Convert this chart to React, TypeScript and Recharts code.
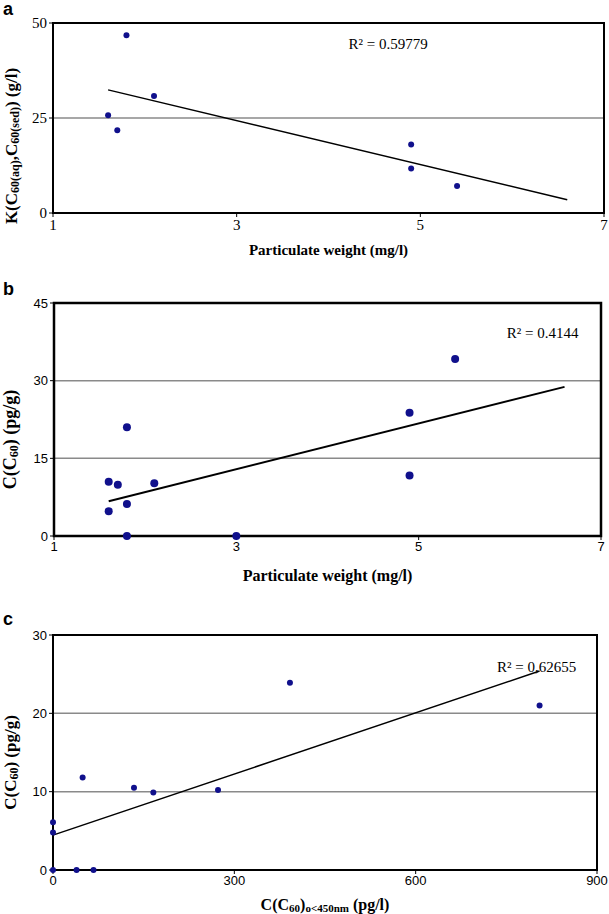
import React from "react"
import {
  ScatterChart,
  Scatter,
  XAxis,
  YAxis,
  CartesianGrid,
  ReferenceArea,
  ReferenceLine,
  ReferenceDot,
  Label,
} from "recharts"

const serif = "'Liberation Serif', 'Times New Roman', serif"
const sans = "'Liberation Sans', Arial, sans-serif"
const dotColor = "#10108c"

// panel a: partition coefficient vs particulate weight
const weightA = [1.6, 1.7, 1.8, 2.1, 4.9, 4.9, 5.4]
const kA = [25.7, 21.8, 46.8, 30.8, 18, 11.7, 7.1]
const trendA = [
  { x: 1.6, y: 32.4 },
  { x: 6.6, y: 3.5 },
]
const xTicksA = [1, 3, 5, 7]
const yTicksA = [0, 25, 50]

// panel b: C60 in particles vs particulate weight
const weightB = [1.6, 1.6, 1.7, 1.8, 1.8, 1.8, 2.1, 3.0, 4.9, 4.9, 5.4]
const c60B = [10.5, 4.8, 9.9, 21, 6.2, 0, 10.2, 0, 23.8, 11.7, 34.2]
const trendB = [
  { x: 1.6, y: 6.7 },
  { x: 6.6, y: 28.8 },
]
const xTicksB = [1, 3, 5, 7]
const yTicksB = [0, 15, 30, 45]

// panel c: C60 in particles vs dissolved C60
const dissolvedC = [0, 0, 0, 39, 67, 49, 134, 166, 273, 392, 805]
const c60C = [6.1, 4.8, 0, 0, 0, 11.8, 10.5, 9.9, 10.2, 23.9, 21]
const trendC = [
  { x: 0, y: 4.45 },
  { x: 805, y: 25.4 },
]
const xTicksC = [0, 300, 600, 900]
const yTicksC = [0, 10, 20, 30]

const toPoints = (xs: number[], ys: number[]) => xs.map((x, i) => ({ x, y: ys[i] }))

const xTitle = (children: React.ReactNode, dy: number, size: number) => (props: any) => {
  const { x, y, width } = props.viewBox
  return (
    <text
      x={x + width / 2}
      y={y + dy}
      textAnchor="middle"
      dominantBaseline="central"
      fontFamily={serif}
      fontWeight="bold"
      fontSize={size}
      fill="#000"
    >
      {children}
    </text>
  )
}

const yTitle = (children: React.ReactNode, cx: number, shift: number, size: number) => (props: any) => {
  const { y, height } = props.viewBox
  const cy = y + height / 2 + shift
  return (
    <text
      x={cx}
      y={cy}
      transform={`rotate(-90 ${cx} ${cy})`}
      textAnchor="middle"
      dominantBaseline="central"
      fontFamily={serif}
      fontWeight="bold"
      fontSize={size}
      fill="#000"
    >
      {children}
    </text>
  )
}

interface PanelProps {
  letter: string
  top: number
  height: number
  margin: { top: number; right: number; left: number; bottom: number }
  yAxisWidth: number
  xAxisHeight: number
  points: { x: number; y: number }[]
  trend: { x: number; y: number }[]
  xTicks: number[]
  yTicks: number[]
  dotR: number
  lineW: number
  borderW: number
  tickFont: string
  tickSize: number
  r2: string
  r2At: { x: number; y: number }
  xLabel: (props: any) => React.ReactNode
  yLabel: (props: any) => React.ReactNode
}

function Panel(p: PanelProps) {
  const x0 = p.xTicks[0]
  const x1 = p.xTicks[p.xTicks.length - 1]
  const y0 = p.yTicks[0]
  const y1 = p.yTicks[p.yTicks.length - 1]
  const tick = { fill: "#000", fontSize: p.tickSize, fontFamily: p.tickFont }
  return (
    <div style={{ position: "absolute", left: 0, top: p.top, width: 609, height: p.height }}>
      <div
        style={{
          position: "absolute",
          left: 3,
          top: 0,
          fontFamily: sans,
          fontWeight: "bold",
          fontSize: 18,
          lineHeight: "18px",
        }}
      >
        {p.letter}
      </div>
      <ScatterChart width={609} height={p.height} margin={p.margin}>
        <CartesianGrid vertical={false} stroke="#8a8a8a" strokeWidth={1.5} />
        <XAxis
          type="number"
          dataKey="x"
          domain={[x0, x1]}
          ticks={p.xTicks}
          height={p.xAxisHeight}
          tick={tick}
          tickSize={4}
          tickLine={{ stroke: "#000" }}
          axisLine={false}
        >
          <Label content={p.xLabel} />
        </XAxis>
        <YAxis
          type="number"
          dataKey="y"
          domain={[y0, y1]}
          ticks={p.yTicks}
          width={p.yAxisWidth}
          tick={tick}
          tickSize={4}
          tickLine={{ stroke: "#000" }}
          axisLine={false}
        >
          <Label content={p.yLabel} />
        </YAxis>
        <ReferenceArea
          x1={x0}
          x2={x1}
          y1={y0}
          y2={y1}
          fill="none"
          stroke="#000"
          strokeWidth={p.borderW}
          ifOverflow="visible"
        />
        <ReferenceLine
          segment={p.trend}
          stroke="#000"
          strokeWidth={p.lineW}
          ifOverflow="visible"
        />
        <ReferenceDot x={p.r2At.x} y={p.r2At.y} r={0} stroke="none" fill="none" ifOverflow="visible">
          <Label value={p.r2} position="center" fill="#000" fontFamily={serif} fontSize={15} />
        </ReferenceDot>
        <Scatter
          data={p.points}
          isAnimationActive={false}
          shape={(s: any) => <circle cx={s.cx} cy={s.cy} r={p.dotR} fill={dotColor} />}
        />
      </ScatterChart>
    </div>
  )
}

export default function App() {
  return (
    <div style={{ position: "absolute", left: 0, top: 0, width: 609, height: 914, background: "#fff" }}>
      <Panel
        letter="a"
        top={0}
        height={265}
        margin={{ top: 23, right: 5, left: 0, bottom: 0 }}
        yAxisWidth={53}
        xAxisHeight={52}
        points={toPoints(weightA, kA)}
        trend={trendA}
        xTicks={xTicksA}
        yTicks={yTicksA}
        dotR={3}
        lineW={1.5}
        borderW={2}
        tickFont={serif}
        tickSize={15}
        r2="R² = 0.59779"
        r2At={{ x: 4.65, y: 44.5 }}
        xLabel={xTitle("Particulate weight (mg/l)", 37, 15)}
        yLabel={yTitle(
          <>
            <tspan>K(C</tspan>
            <tspan fontSize={12} dy={4}>60(aq)</tspan>
            <tspan dy={-4}>,C</tspan>
            <tspan fontSize={12} dy={4}>60(sed)</tspan>
            <tspan dy={-4}>) (g/l)</tspan>
          </>,
          11,
          28,
          17
        )}
      />
      <Panel
        letter="b"
        top={280}
        height={310}
        margin={{ top: 23, right: 8, left: 0, bottom: 0 }}
        yAxisWidth={54}
        xAxisHeight={54}
        points={toPoints(weightB, c60B)}
        trend={trendB}
        xTicks={xTicksB}
        yTicks={yTicksB}
        dotR={4}
        lineW={2}
        borderW={2.5}
        tickFont={sans}
        tickSize={13}
        r2="R² = 0.4144"
        r2At={{ x: 6.36, y: 39.2 }}
        xLabel={xTitle("Particulate weight (mg/l)", 39, 16)}
        yLabel={yTitle(
          <>
            <tspan>C(C</tspan>
            <tspan fontSize={12} dy={4}>60</tspan>
            <tspan dy={-4}>) (pg/g)</tspan>
          </>,
          10,
          20,
          18
        )}
      />
      <Panel
        letter="c"
        top={610}
        height={304}
        margin={{ top: 25, right: 12, left: 0, bottom: 0 }}
        yAxisWidth={53}
        xAxisHeight={44}
        points={toPoints(dissolvedC, c60C)}
        trend={trendC}
        xTicks={xTicksC}
        yTicks={yTicksC}
        dotR={3}
        lineW={1.5}
        borderW={2}
        tickFont={sans}
        tickSize={13}
        r2="R² = 0,62655"
        r2At={{ x: 800, y: 26 }}
        xLabel={xTitle(
          <>
            <tspan>C(C</tspan>
            <tspan fontSize={11} dy={4}>60</tspan>
            <tspan dy={-4}>)</tspan>
            <tspan fontSize={11} dy={4}>o&lt;450nm</tspan>
            <tspan dy={-4}> (pg/l)</tspan>
          </>,
          34,
          16
        )}
        yLabel={yTitle(
          <>
            <tspan>C(C</tspan>
            <tspan fontSize={12} dy={4}>60</tspan>
            <tspan dy={-4}>) (pg/g)</tspan>
          </>,
          10,
          10,
          17
        )}
      />
    </div>
  )
}
